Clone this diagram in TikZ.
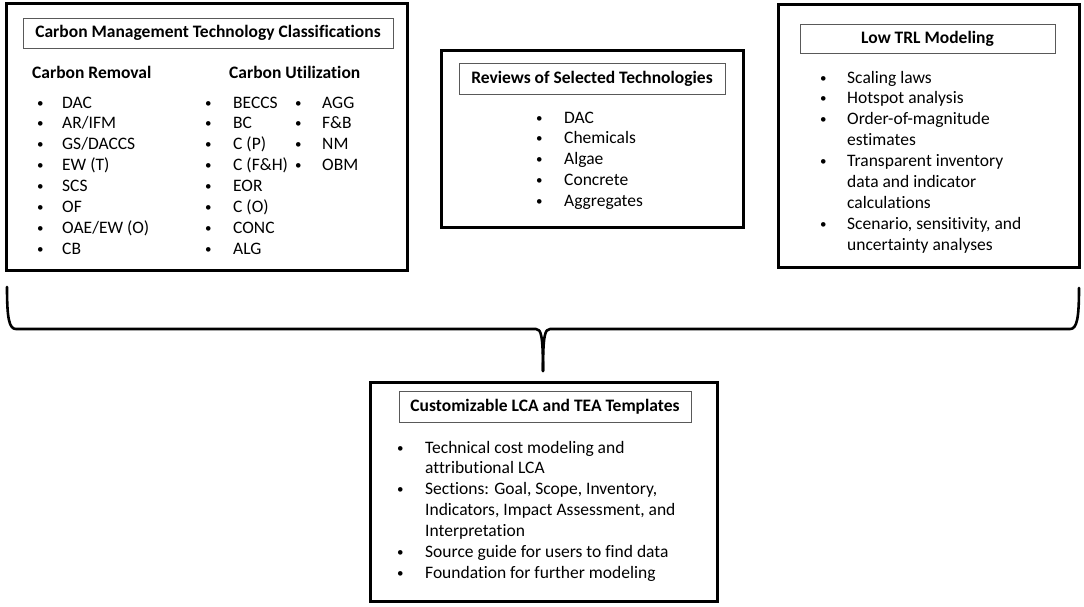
\documentclass[tikz,border=0pt]{standalone}
\usepackage{fontspec}
\setmainfont{Carlito}[Ligatures=NoCommon]
\usepackage{array}
\newcommand{\blst}[2]{\begin{tabular}[t]{@{}p{#1}@{}l@{}}#2\end{tabular}}
\newcommand{\bu}{\raisebox{0.12ex}{\fontsize{13}{13}\selectfont\textbullet}}
\begin{document}
\begin{tikzpicture}[x=1pt,y=-1pt,
  font=\fontsize{17.5}{20.9}\selectfont,
  outerbox/.style={draw=black, line width=3pt, inner sep=0pt},
  titlebox/.style={draw=black!65, line width=0.9pt, inner sep=0pt,
    font=\fontsize{17.5}{20.9}\selectfont\bfseries, text height=12pt, text depth=3pt},
  listnode/.style={anchor=base west, inner sep=0pt},
  header/.style={anchor=base west, inner sep=0pt, font=\fontsize{17.5}{20.9}\selectfont\bfseries},
  brace/.style={draw=black, line width=2.6pt, line cap=round, line join=round}]
\useasboundingbox (0,0) rectangle (1084,606);

% ---- Box 1: Carbon Management Technology Classifications
\node[outerbox, minimum width=401pt, minimum height=267pt] (cmt) at (206.5,136.5) {};
\node[titlebox, minimum width=370pt, minimum height=30pt] (cmtT) at (208,33) {Carbon Management Technology Classifications};
\node[header] (crH) at (32,78) {Carbon Removal};
\node[header] (cuH) at (229,78) {Carbon Utilization};
\node[listnode] (crL) at (37,108) {\blst{25pt}{%
  \bu & DAC\\ \bu & AR/IFM\\ \bu & GS/DACCS\\ \bu & EW (T)\\
  \bu & SCS\\ \bu & OF\\ \bu & OAE/EW (O)\\ \bu & CB}};
\node[listnode] (cuL) at (205,108) {\blst{28pt}{%
  \bu & BECCS\\ \bu & BC\\ \bu & C (P)\\ \bu & C (F\&H)\\
  \bu & EOR\\ \bu & C (O)\\ \bu & CONC\\ \bu & ALG}};
\node[listnode] (cuL2) at (295,108) {\blst{27pt}{%
  \bu & AGG\\ \bu & F\&B\\ \bu & NM\\ \bu & OBM}};

% ---- Box 2: Reviews of Selected Technologies
\node[outerbox, minimum width=302pt, minimum height=177pt] (rev) at (592,138.5) {};
\node[titlebox, minimum width=266pt, minimum height=31pt] (revT) at (592,78.5) {Reviews of Selected Technologies};
\node[listnode] (revL) at (536,123) {\blst{28pt}{%
  \bu & DAC\\ \bu & Chemicals\\ \bu & Algae\\ \bu & Concrete\\
  \bu & Aggregates}};

% ---- Box 3: Low TRL Modeling
\node[outerbox, minimum width=301pt, minimum height=263pt] (trl) at (928.5,135.5) {};
\node[titlebox, minimum width=255pt, minimum height=29pt] (trlT) at (927.5,38.5) {Low TRL Modeling};
\node[listnode] (trlL) at (820,83) {\blst{27pt}{%
  \bu & Scaling laws\\ \bu & Hotspot analysis\\
  \bu & Order-of-magnitude\\ & estimates\\
  \bu & Transparent inventory\\ & data and indicator\\ & calculations\\
  \bu & Scenario, sensitivity, and\\ & uncertainty analyses}};

% ---- Bottom box: Customizable LCA and TEA Templates
\node[outerbox, minimum width=347pt, minimum height=219pt] (lca) at (543.5,491.5) {};
\node[titlebox, minimum width=292pt, minimum height=31pt] (lcaT) at (545,406.5) {Customizable LCA and TEA Templates};
\node[listnode] (lcaL) at (397,453) {\blst{28pt}{%
  \bu & Technical cost modeling and\\ & attributional LCA\\
  \bu & Sections: Goal, Scope, Inventory,\\ & Indicators, Impact Assessment, and\\ & Interpretation\\
  \bu & Source guide for users to find data\\
  \bu & Foundation for further modeling}};

% ---- Brace
\coordinate (bl) at (7,287);
\coordinate (br) at (1079,288);
\coordinate (tip) at (543,371);
\draw[brace] (bl) .. controls (7,318) and (9,329) .. (16,329) -- (536,329)
  .. controls (541,329) and (543,335) .. (tip);
\draw[brace] (br) .. controls (1079,318) and (1077,329) .. (1070,329) -- (550,329)
  .. controls (545,329) and (543,335) .. (tip);
\end{tikzpicture}
\end{document}
